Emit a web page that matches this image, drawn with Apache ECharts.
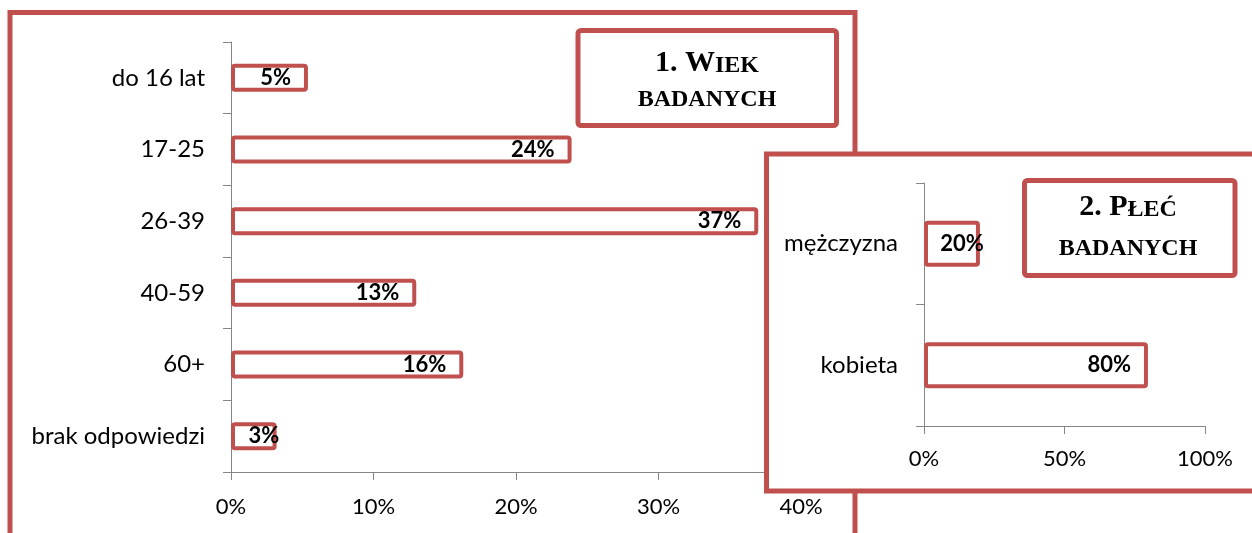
<!DOCTYPE html>
<html>
<head>
<meta charset="utf-8">
<script src="https://cdn.jsdelivr.net/npm/echarts@6/dist/echarts.min.js"></script>
<style>
  html, body { margin: 0; padding: 0; background: #ffffff; }
  #chart { width: 1252px; height: 533px; }
</style>
</head>
<body>
<div id="chart"></div>
<script>
// ---- data ----
const ageCategories = ['do 16 lat', '17-25', '26-39', '40-59', '60+', 'brak odpowiedzi'];
const ageValues = [5.4, 23.9, 37.0, 13.0, 16.3, 3.2];
const ageTicks = { min: 0, max: 40, interval: 10 };

const sexCategories = ['mężczyzna', 'kobieta'];
const sexValues = [19.9, 79.7];
const sexTicks = { min: 0, max: 100, interval: 50 };

// ---- styling ----
const RED = '#C0504D';
const AXIS = '#868686';
const SANS = 'Lato';
const SERIF = 'Liberation Serif';

const chart = echarts.init(document.getElementById('chart'), null, { renderer: 'canvas' });

function barData(values, narrowBelow) {
  return values.map(v => {
    const item = { value: v };
    if (v < narrowBelow) {
      item.label = { position: 'inside', offset: [10, 0] };
    }
    return item;
  });
}

const pctLabel = p => Math.round(p.value) + '%';

function catAxis(gridIndex, cats, z) {
  return {
    type: 'category', gridIndex, data: cats, inverse: true, z,
    axisLine: { show: true, lineStyle: { color: AXIS, width: 1 } },
    axisTick: { show: true, length: 8, lineStyle: { color: AXIS } },
    axisLabel: { color: '#000', fontFamily: SANS, fontSize: 24, margin: 26 },
    splitLine: { show: false }
  };
}
function valAxis(gridIndex, t, z, margin) {
  return {
    type: 'value', gridIndex, min: t.min, max: t.max, interval: t.interval, z,
    axisLine: { show: true, lineStyle: { color: AXIS, width: 1 } },
    axisTick: { show: true, length: 8, lineStyle: { color: AXIS } },
    axisLabel: { color: '#000', fontFamily: SANS, fontSize: 22, margin, formatter: '{value}%' },
    splitLine: { show: false }
  };
}

function titleText(cx, y1, y2, big, small, z) {
  return [
    {
      type: 'text', z, x: cx, y: y1,
      style: {
        text: '{a|' + big + '}{b|' + small + '}',
        align: 'center', verticalAlign: 'bottom',
        rich: {
          a: { fontFamily: SERIF, fontWeight: 'bold', fontSize: 30, lineHeight: 30, fill: '#000', color: '#000', verticalAlign: 'bottom' },
          b: { fontFamily: SERIF, fontWeight: 'bold', fontSize: 24, lineHeight: 26, fill: '#000', color: '#000', verticalAlign: 'bottom' }
        }
      }
    },
    {
      type: 'text', z, x: cx, y: y2,
      style: {
        text: 'BADANYCH', align: 'center', verticalAlign: 'bottom',
        font: 'bold 24px "' + SERIF + '"', fill: '#000'
      }
    }
  ];
}

const option = {
  animation: false,
  grid: [
    { left: 231, top: 42, width: 570, height: 430 },
    { left: 924, top: 183, width: 281, height: 243 }
  ],
  yAxis: [catAxis(0, ageCategories, 1), catAxis(1, sexCategories, 4)],
  xAxis: [valAxis(0, ageTicks, 1, 24), valAxis(1, sexTicks, 4, 22)],
  series: [
    {
      type: 'bar', xAxisIndex: 0, yAxisIndex: 0, z: 2,
      data: barData(ageValues, 4),
      barWidth: 28,
      itemStyle: { color: '#ffffff', borderColor: RED, borderWidth: 4, borderRadius: 2 },
      label: { show: true, position: 'insideRight', distance: 17, formatter: pctLabel,
               color: '#000', fontFamily: SANS, fontWeight: 'bold', fontSize: 22 }
    },
    {
      type: 'bar', xAxisIndex: 1, yAxisIndex: 1, z: 5,
      data: barData(sexValues, 25),
      barWidth: 46,
      itemStyle: { color: '#ffffff', borderColor: RED, borderWidth: 4, borderRadius: 2 },
      label: { show: true, position: 'insideRight', distance: 17, formatter: pctLabel,
               color: '#000', fontFamily: SANS, fontWeight: 'bold', fontSize: 22 }
    }
  ],
  graphic: {
    elements: [
      { type: 'rect', z: 0, shape: { x: 10, y: 12.5, width: 845, height: 600 },
        style: { fill: 'rgba(0,0,0,0)', stroke: RED, lineWidth: 5 }, silent: true },
      { type: 'rect', z: 3, shape: { x: 766.5, y: 154, width: 600, height: 337 },
        style: { fill: '#ffffff', stroke: RED, lineWidth: 5 }, silent: true },
      { type: 'rect', z: 6, shape: { x: 578, y: 30.5, width: 258.5, height: 95, r: 3 },
        style: { fill: '#ffffff', stroke: RED, lineWidth: 5 }, silent: true },
      { type: 'rect', z: 6, shape: { x: 1024.5, y: 180.5, width: 210.5, height: 95, r: 3 },
        style: { fill: '#ffffff', stroke: RED, lineWidth: 5 }, silent: true },
      ...titleText(707, 78, 112, '1. W', 'IEK', 7),
      ...titleText(1128, 222, 261, '2. P', 'ŁEĆ', 7)
    ]
  }
};

chart.setOption(option);
</script>
</body>
</html>
